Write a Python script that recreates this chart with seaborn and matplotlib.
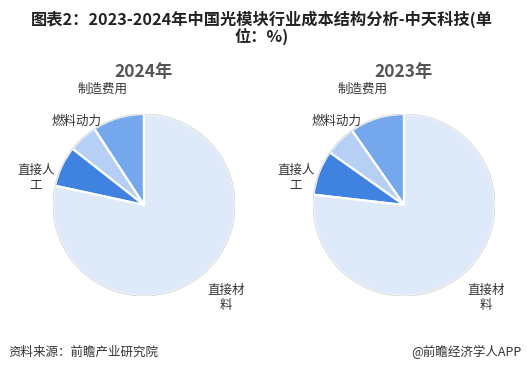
import matplotlib
matplotlib.use("Agg")
import matplotlib.pyplot as plt
import seaborn as sns
import numpy as np

sns.set_theme(style="white")
plt.rcParams['font.family'] = ['Noto Sans CJK SC', 'DejaVu Sans']

categories = ["制造费用", "燃料动力", "直接人工", "直接材料"]
label_texts = ["制造费用", "燃料动力", "直接人\n工", "直接材\n料"]
values_2024 = [9.2, 5.2, 7.2, 78.4]
values_2023 = [9.7, 5.5, 8.0, 76.8]
years = ["2024年", "2023年"]
colors = ["#74a7eb", "#b6cff4", "#3f82e0", "#dee9f9"]

title = "图表2：2023-2024年中国光模块行业成本结构分析-中天科技(单\n位：%)"
source = "资料来源：前瞻产业研究院"
brand = "@前瞻经济学人APP"

W, H = 527, 372
fig = plt.figure(figsize=(W / 100, H / 100), dpi=100)
fig.patch.set_facecolor("white")

# label positions in radius units (layout)
label_pos = [(-0.46, 1.27), (-0.74, 0.92), (-1.19, 0.30), (0.90, -1.02)]

centers = [(144, 205), (404, 205)]
R = 91
for (cx, cy), vals, yr in zip(centers, [values_2024, values_2023], years):
    ax = fig.add_axes([(cx - R) / W, (H - cy - R) / H, 2 * R / W, 2 * R / H])
    ax.pie(vals, colors=colors, startangle=90, counterclock=True,
           wedgeprops=dict(edgecolor="white", linewidth=1.6))
    circ = plt.Circle((0, 0), 1.0, fill=False, edgecolor="#dcdcdc", linewidth=0.8)
    ax.add_patch(circ)
    ax.set_xlim(-1, 1)
    ax.set_ylim(-1, 1)
    ax.set_aspect("equal")
    ax.axis("off")
    for txt, (lx, ly) in zip(label_texts, label_pos):
        ax.text(lx, ly, txt, ha="center", va="center", fontsize=9,
                color="#333333", linespacing=1.25)
    fig.text(cx / W, 1 - 72 / H, yr, ha="center", va="center",
             fontsize=12.5, fontweight="bold", color="#555555")

fig.text(262 / W, 1 - 28 / H, title, ha="center", va="center", fontsize=11.7,
         fontweight="bold", color="#222222", linespacing=1.05)
fig.text(8 / W, 1 - 352 / H, source, ha="left", va="center", fontsize=9, color="#333333")
fig.text(521 / W, 1 - 352 / H, brand, ha="right", va="center", fontsize=9, color="#333333")

fig.savefig("out.png", dpi=100, facecolor="white")
